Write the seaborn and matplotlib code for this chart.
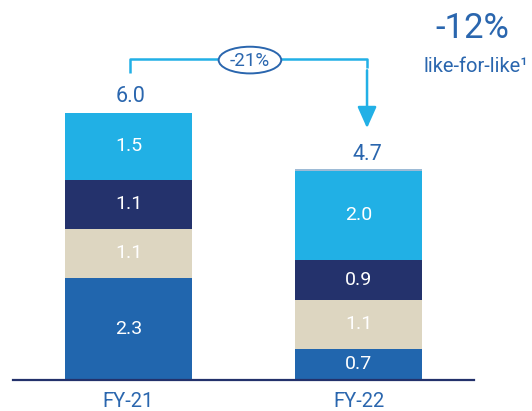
import matplotlib
matplotlib.use("Agg")
import matplotlib.pyplot as plt
import numpy as np
import pandas as pd
import seaborn as sns
from matplotlib.patches import Ellipse

# Reporting periods and stacked components (bottom to top)
periods = ["FY-21", "FY-22"]
comp_1 = [2.3, 0.7]
comp_2 = [1.1, 1.1]
comp_3 = [1.1, 0.9]
comp_4 = [1.5, 2.0]
comp_other = [0.0, 0.05]
totals = [6.0, 4.7]
change_label = "-21%"
lfl_value = "-12%"
lfl_text = "like-for-like\u00b9"

comp_names = ["comp_1", "comp_2", "comp_3", "comp_4", "comp_other"]
comp_colors = ["#2166ae", "#ddd6c1", "#24326c", "#21b0e5", "#9dbbd6"]
comp_labelled = [True, True, True, True, False]

TEXT_BLUE = "#2a66ae"
LINE_BLUE = "#22b0e6"
BASE = "#23316b"

sns.set_theme(style="white")
plt.rcParams["font.family"] = ["Roboto", "Liberation Sans", "DejaVu Sans"]
plt.rcParams["font.weight"] = "normal"

df = pd.DataFrame({"period": periods, "comp_1": comp_1, "comp_2": comp_2,
                   "comp_3": comp_3, "comp_4": comp_4, "comp_other": comp_other})
cum = df[comp_names].cumsum(axis=1)

W, H = 532, 411
fig = plt.figure(figsize=(W / 100, H / 100), dpi=100)
ax = fig.add_axes([13 / W, 31 / H, 461 / W, 380 / H])

# Stacked bars: draw cumulative heights from the top layer down
for name, color in reversed(list(zip(comp_names, comp_colors))):
    sns.barplot(data=df.assign(h=cum[name]), x="period", y="h", order=periods,
                color=color, width=0.552, saturation=1, edgecolor="none",
                linewidth=0, ax=ax)

ax.set_xlim(-0.502, 1.502)
ax.set_ylim(0, 8.54)
ax.set_xlabel("")
ax.set_ylabel("")
ax.set_yticks([])
for s in ["top", "left", "right"]:
    ax.spines[s].set_visible(False)
ax.spines["bottom"].set_color(BASE)
ax.spines["bottom"].set_linewidth(1.6)
ax.tick_params(axis="x", length=0, pad=8.5, labelsize=14.5, labelcolor=TEXT_BLUE)

# Segment value labels
for i in range(len(periods)):
    bottom = 0.0
    for name, show in zip(comp_names, comp_labelled):
        v = df.loc[i, name]
        if show and v > 0:
            ax.text(i, bottom + v / 2, f"{v:.1f}", ha="center", va="center",
                    color="white", fontsize=14)
        bottom += v

# Totals above bars
total_x = [0.011, 1.037]
for i, t in enumerate(totals):
    ax.text(total_x[i], t + 0.37, f"{t:.1f}", ha="center", va="center",
            color=TEXT_BLUE, fontsize=15.5)

# Change bracket with arrow
y_top = 7.21
x_left, x_right = 0.007, 1.037
ax.plot([x_left, x_left, x_right, x_right],
        [totals[0] + 0.9, y_top, y_top, y_top - 0.2],
        color=LINE_BLUE, lw=1.8, solid_capstyle="butt", clip_on=False)
ax.annotate("", xy=(x_right, totals[1] + 0.96), xytext=(x_right, y_top - 0.25),
            arrowprops=dict(arrowstyle="-|>,head_width=0.29,head_length=0.65",
                            mutation_scale=20, color=LINE_BLUE, lw=1.8,
                            shrinkA=0, shrinkB=0))
ell = Ellipse((0.528, 7.19), width=0.272, height=0.6, facecolor="white",
              edgecolor=TEXT_BLUE, lw=1.4, zorder=5, clip_on=False)
ax.add_patch(ell)
ax.text(0.528, 7.18, change_label, ha="center", va="center", color=TEXT_BLUE,
        fontsize=13.5, zorder=6)

# Like-for-like callout
fig.text(472 / W, 1 - 28 / H, lfl_value, ha="center", va="center",
         color=TEXT_BLUE, fontsize=25)
fig.text(528 / W, 1 - 67 / H, lfl_text, ha="right", va="center",
         color=TEXT_BLUE, fontsize=14.5)

fig.savefig("out.png", dpi=100)
